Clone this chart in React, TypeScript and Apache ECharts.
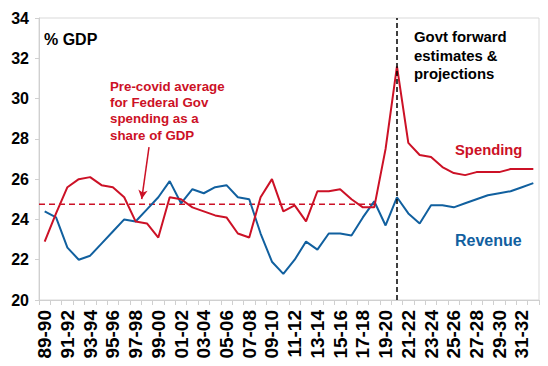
import React, { useEffect, useRef } from "react";
import * as echarts from "echarts";

const categories = [
  "89-90", "90-91", "91-92", "92-93", "93-94", "94-95", "95-96", "96-97", "97-98", "98-99",
  "99-00", "00-01", "01-02", "02-03", "03-04", "04-05", "05-06", "06-07", "07-08", "08-09",
  "09-10", "10-11", "11-12", "12-13", "13-14", "14-15", "15-16", "16-17", "17-18", "18-19",
  "19-20", "20-21", "21-22", "22-23", "23-24", "24-25", "25-26", "26-27", "27-28", "28-29",
  "29-30", "30-31", "31-32", "32-33",
];

const spending = [
  22.9, 24.3, 25.6, 26.0, 26.1, 25.7, 25.6, 25.1, 23.9, 23.8,
  23.1, 25.1, 25.0, 24.6, 24.4, 24.2, 24.1, 23.3, 23.1, 25.1,
  26.0, 24.4, 24.7, 23.9, 25.4, 25.4, 25.5, 25.0, 24.6, 24.6,
  27.5, 31.6, 27.8, 27.2, 27.1, 26.6, 26.3, 26.2, 26.35, 26.35,
  26.35, 26.5, 26.5, 26.5,
];

const revenue = [
  24.4, 24.1, 22.6, 22.0, 22.2, 22.8, 23.4, 24.0, 23.9, 24.5,
  25.1, 25.9, 24.8, 25.5, 25.3, 25.6, 25.7, 25.1, 25.0, 23.3,
  21.9, 21.3, 22.0, 22.9, 22.5, 23.3, 23.3, 23.2, 24.1, 24.9,
  23.7, 25.1, 24.3, 23.8, 24.7, 24.7, 24.6, 24.8, 25.0, 25.2,
  25.3, 25.4, 25.6, 25.8,
];

const forecastStart = "20-21";
const preCovidAverage = 24.75;
const averageSpan = [0, 29.85];
const arrowFrom = [9.68, 27.59];
const arrowTo = [9.04, 25.01];

const RED = "#CC1126";
const BLUE = "#11609F";
const FONT = "Arial, 'Liberation Sans', sans-serif";

export default function App() {
  const ref = useRef<HTMLDivElement>(null);
  useEffect(() => {
    if (!ref.current) return;
    const chart = echarts.init(ref.current, undefined, { renderer: "svg" });
    chart.setOption({
      animation: false,
      textStyle: { fontFamily: FONT },
      grid: {
        left: 39, right: 9, top: 18, bottom: 66,
        show: true, borderColor: "#d9d9d9", borderWidth: 1,
      },
      xAxis: [
        {
          type: "category",
          data: categories,
          boundaryGap: true,
          axisLine: { lineStyle: { color: "#d0d0d0", width: 1 } },
          axisTick: { show: true, interval: 0, length: 5, lineStyle: { color: "#d0d0d0" } },
          axisLabel: {
            interval: 1, rotate: 90, margin: 10,
            fontSize: 19, fontWeight: "bold", color: "#000", fontFamily: FONT,
          },
          splitLine: { show: false },
        },
        {
          type: "value", min: 0, max: categories.length, show: false, gridIndex: 0,
        },
      ],
      yAxis: {
        type: "value", min: 20, max: 34, interval: 2,
        axisLine: { show: true, lineStyle: { color: "#d0d0d0" } },
        axisTick: { show: true, length: 4, lineStyle: { color: "#d0d0d0" } },
        axisLabel: { fontSize: 16, fontWeight: "bold", color: "#000", margin: 10, fontFamily: FONT },
        splitLine: { show: false },
      },
      series: [
        {
          name: "Average",
          type: "line",
          xAxisIndex: 1,
          data: averageSpan.map((x) => [x, preCovidAverage]),
          symbol: "none",
          lineStyle: { color: RED, width: 1.5, type: [6, 4] },
          z: 1,
          markLine: {
            silent: true,
            symbol: ["none", "arrow"],
            symbolSize: [7, 9],
            label: { show: false },
            lineStyle: { color: RED, width: 1.5, type: "solid" },
            data: [[{ coord: arrowFrom }, { coord: arrowTo }]],
          },
        },
        {
          name: "Revenue",
          type: "line",
          data: revenue,
          symbol: "none",
          lineStyle: { color: BLUE, width: 2 },
          z: 3,
          markLine: {
            silent: true,
            symbol: "none",
            label: { show: false },
            lineStyle: { color: "#000", width: 1.5, type: [5, 3] },
            data: [{ xAxis: forecastStart }],
          },
        },
        {
          name: "Spending",
          type: "line",
          data: spending,
          symbol: "none",
          lineStyle: { color: RED, width: 2 },
          z: 4,
        },
      ],
      graphic: [
        {
          type: "text", left: 44, top: 31,
          style: { text: "% GDP", font: `bold 16px ${FONT}`, fill: "#000" },
        },
        {
          type: "text", left: 110, top: 78,
          style: {
            text: "Pre-covid average\nfor Federal Gov\nspending as a\nshare of GDP",
            font: `bold 13.3px ${FONT}`, fill: RED, lineHeight: 16.3,
          },
        },
        {
          type: "text", left: 414, top: 28,
          style: {
            text: "Govt forward\nestimates &\nprojections",
            font: `bold 14.9px ${FONT}`, fill: "#000", lineHeight: 18.5,
          },
        },
        {
          type: "text", left: 455, top: 142,
          style: { text: "Spending", font: `bold 14.8px ${FONT}`, fill: RED },
        },
        {
          type: "text", left: 455, top: 232,
          style: { text: "Revenue", font: `bold 16px ${FONT}`, fill: BLUE },
        },
      ],
    });
    return () => chart.dispose();
  }, []);
  return (
    <div
      ref={ref}
      style={{ position: "absolute", left: 0, top: 0, width: 548, height: 366, background: "#fff" }}
    />
  );
}
